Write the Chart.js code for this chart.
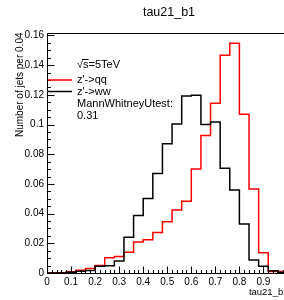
<!DOCTYPE html>
<html>
<head>
<meta charset="utf-8">
<script src="https://cdn.jsdelivr.net/npm/chart.js@4.4.1/dist/chart.umd.min.js"></script>
<style>
  html, body { margin: 0; padding: 0; background: #fff; overflow: hidden; }
  canvas { display: block; }
</style>
</head>
<body>
<canvas id="tau21" width="300" height="300"></canvas>
<script>
// bin low edges (bin width 0.04), last bin closes at 1.0
const binEdges = [0, 0.04, 0.08, 0.12, 0.16, 0.2, 0.24, 0.28, 0.32, 0.36, 0.4, 0.44, 0.48,
                  0.52, 0.56, 0.6, 0.64, 0.68, 0.72, 0.76, 0.8, 0.84, 0.88, 0.92, 0.96];
const binUpper = 1.0;

// normalised counts per bin
const zqq = [0, 0.0002, 0.0009, 0.0018, 0.0030, 0.0050, 0.0103, 0.0111, 0.0140, 0.0208, 0.0224, 0.0273, 0.0345,
             0.0424, 0.0483, 0.0700, 0.0927, 0.1143, 0.1466, 0.1547, 0.1069, 0.0566, 0.0137, 0.0010, 0.0010];
const zww = [0, 0, 0.0005, 0.0012, 0.0016, 0.0046, 0.0048, 0.0080, 0.0240, 0.0388, 0.0502, 0.0671, 0.0871,
             0.1003, 0.1192, 0.1198, 0.1001, 0.1017, 0.0705, 0.0559, 0.0330, 0.0088, 0.0045, 0.0015, 0.0003];

const xTicks = [0, 0.1, 0.2, 0.3, 0.4, 0.5, 0.6, 0.7, 0.8, 0.9, 1];
const yTicks = [0, 0.02, 0.04, 0.06, 0.08, 0.1, 0.12, 0.14, 0.16];
const yMax = 0.162;

const legendLines = ['MannWhitneyUtest:', '0.31'];
const FONT = "'Liberation Sans', Arial, Helvetica, sans-serif";

function steps(vals) {
    const pts = binEdges.map((x, i) => ({ x: x, y: vals[i] }));
    pts.push({ x: binUpper, y: vals[vals.length - 1] });
    return pts;
}

function fmt(v) {
    return String(+v.toFixed(3));
}

// ROOT style frame: inward ticks, titles and the text legend
const rootFrame = {
    id: 'rootFrame',
    afterDraw(chart) {
        const ctx = chart.ctx;
        const a = chart.chartArea;
        const x = chart.scales.x, y = chart.scales.y;
        const L = Math.round(a.left) + 0.5, B = Math.round(a.bottom) + 0.5;
        const T = Math.round(a.top) + 0.5, R = Math.round(a.right) + 0.5;
        ctx.save();
        ctx.strokeStyle = '#000';
        ctx.lineWidth = 1;
        ctx.beginPath();
        ctx.moveTo(L, B); ctx.lineTo(L, T); ctx.lineTo(R, T); ctx.lineTo(R, B); ctx.lineTo(L, B);
        // y ticks, 4 minor intervals
        for (let i = 0; i * 0.005 <= yMax + 1e-9; i++) {
            const py = Math.round(y.getPixelForValue(i * 0.005)) + 0.5;
            const len = i % 4 === 0 ? 7 : 3.5;
            ctx.moveTo(L, py); ctx.lineTo(L + len, py);
        }
        // x ticks, 5 minor intervals
        for (let i = 0; i <= 50; i++) {
            const px = Math.round(x.getPixelForValue(i * 0.02)) + 0.5;
            const len = i % 5 === 0 ? 7 : 3.5;
            ctx.moveTo(px, B); ctx.lineTo(px, B - len);
        }
        ctx.stroke();

        ctx.fillStyle = '#000';
        ctx.textBaseline = 'middle';
        // title
        ctx.font = '12.5px ' + FONT;
        ctx.textAlign = 'center';
        ctx.fillText('tau21_b1', 169, 13);
        // x title
        ctx.font = '9.5px ' + FONT;
        ctx.textAlign = 'right';
        ctx.fillText('tau21_b1', a.right + 1, 292);
        // y title
        ctx.save();
        ctx.translate(20, a.top);
        ctx.rotate(-Math.PI / 2);
        ctx.font = '10px ' + FONT;
        ctx.textAlign = 'right';
        ctx.fillText('Number of jets per 0.04', 0, 0);
        ctx.restore();

        // legend
        ctx.font = '11px ' + FONT;
        ctx.textAlign = 'left';
        const tx = 77;
        ctx.fillText('\u221As=5TeV', tx, 65);
        const wRad = ctx.measureText('\u221A').width;
        const wS = ctx.measureText('s').width;
        ctx.beginPath();
        ctx.moveTo(tx + wRad - 1, 59.5); ctx.lineTo(tx + wRad + wS, 59.5);
        ctx.stroke();
        const ds = chart.data.datasets;
        [[ds[0], 80], [ds[1], 91.5]].forEach(([d, ly]) => {
            ctx.strokeStyle = d.borderColor;
            ctx.lineWidth = 1.5;
            ctx.beginPath();
            ctx.moveTo(a.left + 1, ly); ctx.lineTo(72, ly);
            ctx.stroke();
            ctx.fillText(d.label, tx, ly);
        });
        legendLines.forEach((t, i) => ctx.fillText(t, tx, 104 + i * 11.5));
        ctx.restore();
    }
};

new Chart(document.getElementById('tau21').getContext('2d'), {
    type: 'line',
    data: {
        datasets: [{
            label: "z'->qq",
            data: steps(zqq),
            borderColor: '#ff0000',
            borderWidth: 1.5,
            stepped: 'before',
            pointRadius: 0,
            fill: false,
            order: 1
        }, {
            label: "z'->ww",
            data: steps(zww),
            borderColor: '#000000',
            borderWidth: 1.5,
            stepped: 'before',
            pointRadius: 0,
            fill: false,
            order: 0
        }]
    },
    options: {
        responsive: false,
        animation: false,
        layout: { padding: { top: 32.5, right: 12.5, left: 0, bottom: 0 } },
        plugins: {
            legend: { display: false },
            title: { display: false },
            tooltip: { enabled: false }
        },
        scales: {
            x: {
                type: 'linear',
                min: 0,
                max: 1,
                grid: { display: false, drawTicks: false },
                border: { display: false },
                afterBuildTicks: s => { s.ticks = xTicks.map(v => ({ value: v })); },
                afterFit: s => { s.height = 27; },
                ticks: {
                    autoSkip: false,
                    maxRotation: 0,
                    padding: 3,
                    color: '#000',
                    font: { family: FONT, size: 10 },
                    callback: v => fmt(v)
                }
            },
            y: {
                type: 'linear',
                min: 0,
                max: yMax,
                grid: { display: false, drawTicks: false },
                border: { display: false },
                afterBuildTicks: s => { s.ticks = yTicks.map(v => ({ value: v })); },
                afterFit: s => { s.width = 47; },
                ticks: {
                    autoSkip: false,
                    padding: 3,
                    color: '#000',
                    font: { family: FONT, size: 10 },
                    callback: v => fmt(v)
                }
            }
        }
    },
    plugins: [rootFrame]
});
</script>
</body>
</html>
